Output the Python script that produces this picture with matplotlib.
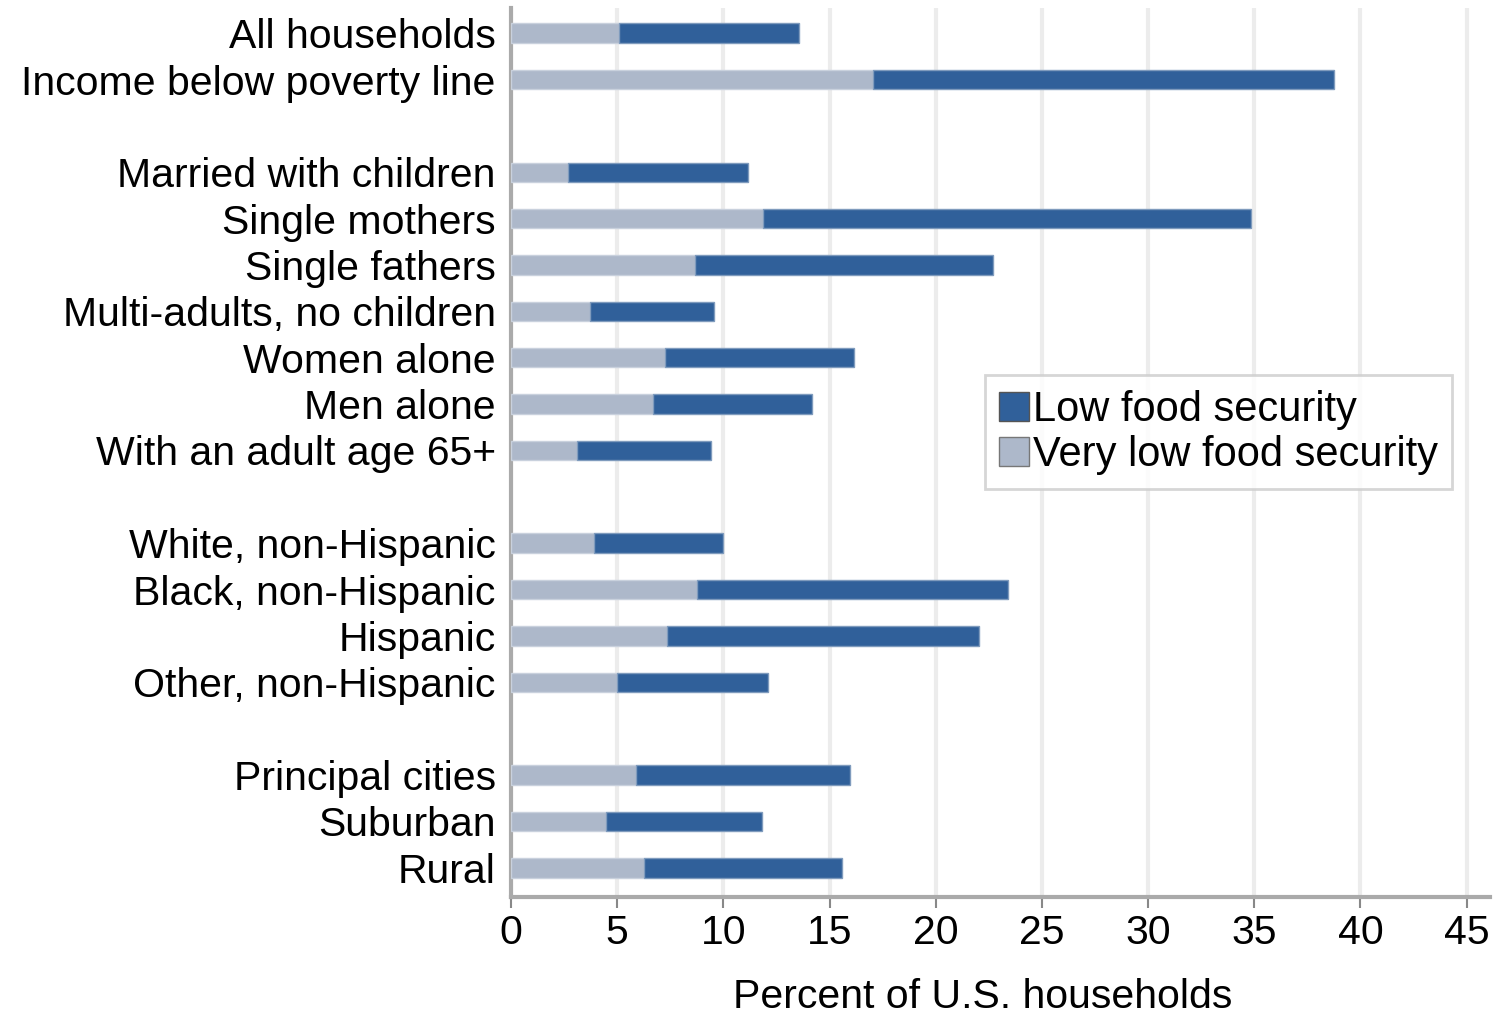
import matplotlib
matplotlib.use("Agg")
import matplotlib.pyplot as plt
from matplotlib.patches import Patch

categories = ["All households", "Income below poverty line", "",
              "Married with children", "Single mothers", "Single fathers",
              "Multi-adults, no children", "Women alone", "Men alone",
              "With an adult age 65+", "",
              "White, non-Hispanic", "Black, non-Hispanic", "Hispanic",
              "Other, non-Hispanic", "",
              "Principal cities", "Suburban", "Rural"]
very_low = [5.1, 17.05, None, 2.7, 11.85, 8.65, 3.7, 7.25, 6.7, 3.1, None,
            3.9, 8.75, 7.35, 5.0, None, 5.9, 4.45, 6.25]
total = [13.55, 38.75, None, 11.15, 34.85, 22.7, 9.55, 16.15, 14.15, 9.4, None,
         10.0, 23.4, 22.05, 12.1, None, 15.95, 11.8, 15.6]
xticks = [0, 5, 10, 15, 20, 25, 30, 35, 40, 45]

dark = "#30609a"
light = "#adb8ca"

plt.rcParams['font.family'] = ['Liberation Sans', 'DejaVu Sans']

fig = plt.figure(figsize=(14.96, 10.16), dpi=100)
ax = fig.add_axes([0.3416, 0.1171, 0.996 - 0.3416, 0.992 - 0.1171])

ys, vl, low = [], [], []
for i, (v, t) in enumerate(zip(very_low, total)):
    if v is None:
        continue
    ys.append(i)
    vl.append(v)
    low.append(t - v)

h = 0.42
ax.barh(ys, vl, height=h, color=light, edgecolor="#c9d1dd", linewidth=1, zorder=3)
ax.barh(ys, low, left=vl, height=h, color=dark, edgecolor="#7f9bbd", linewidth=1, zorder=3)

fs = 29.5
ax.set_ylim(18.63, -0.54)
ax.set_xlim(0, 46.1)
ax.set_yticks(range(len(categories)))
ax.set_yticklabels(categories, fontsize=fs)
ax.tick_params(axis='y', length=0, pad=11)
ax.set_xticks(xticks)
ax.set_xticklabels([str(x) for x in xticks], fontsize=fs)
ax.tick_params(axis='x', length=8, width=1.5, color="#888888", pad=4)
ax.set_xlabel("Percent of U.S. households", fontsize=fs)
ax.xaxis.set_label_coords(0.482, -0.091)

ax.grid(axis='x', color="#ececec", linewidth=3, zorder=0)
ax.set_axisbelow(True)
for s in ["top", "right"]:
    ax.spines[s].set_visible(False)
ax.spines["left"].set_color("#aaaaaa")
ax.spines["left"].set_linewidth(3)
ax.spines["bottom"].set_color("#aaaaaa")
ax.spines["bottom"].set_linewidth(3)

handles = [Patch(facecolor=dark, edgecolor="#555555", label="Low food security"),
           Patch(facecolor=light, edgecolor="#777777", label="Very low food security")]
leg = ax.legend(handles=handles, loc="upper left", bbox_to_anchor=(0.484, 0.587),
                fontsize=30, frameon=True, fancybox=False, handlelength=0.7,
                handleheight=0.7, handletextpad=0.1, borderpad=0.35, labelspacing=0.12,
                borderaxespad=0)
leg.get_frame().set_edgecolor("#cccccc")
leg.get_frame().set_linewidth(2)

fig.savefig("out.png", dpi=100)
